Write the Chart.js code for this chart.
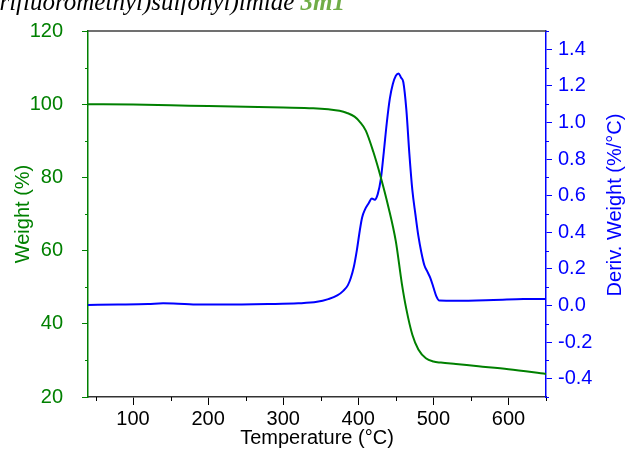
<!DOCTYPE html>
<html><head><meta charset="utf-8">
<script src="https://cdn.jsdelivr.net/npm/chart.js@4/dist/chart.umd.min.js"></script>
<style>
html,body{margin:0;padding:0;background:#fff;overflow:hidden;}
#wrap{position:relative;width:626px;height:450px;overflow:hidden;}
canvas{position:absolute;left:0;top:0;}
#title{position:absolute;right:281px;top:-11px;white-space:nowrap;font-family:"Liberation Serif",serif;font-style:italic;font-size:25px;line-height:25px;color:#000;}
#title b{color:#70AD47;}
</style></head><body>
<div id="wrap"><canvas id="c" width="626" height="450"></canvas><div id="title">bis((trifluoromethyl)sulfonyl)imide <b>3m1</b></div></div>
<script>
// ---- data ----
const weightTemp   = [40, 100, 150, 200, 250, 300, 340, 360, 375, 385, 395, 402, 410, 420, 430, 440, 450, 458, 464, 472, 480, 490, 500, 510, 530, 560, 600, 650];
const weightValues = [100.0, 99.9, 99.7, 99.5, 99.3, 99.1, 98.9, 98.6, 98.2, 97.6, 96.6, 95.2, 92.8, 87.0, 80.0, 72.0, 62.5, 51.0, 44.0, 37.0, 33.0, 30.6, 29.7, 29.4, 29.0, 28.4, 27.6, 26.3];

const derivTemp   = [40, 80, 120, 140, 160, 180, 220, 280, 320, 345, 360, 372, 380, 386, 390, 394, 398, 402, 405, 409, 414, 418, 422, 426, 430, 434, 438, 442, 446, 450, 453.5, 457, 460, 464, 468, 472, 476, 480, 484, 488, 492, 496, 500, 504, 508, 530, 580, 620, 650];
const derivValues = [0.003, 0.005, 0.008, 0.012, 0.01, 0.006, 0.005, 0.008, 0.012, 0.02, 0.035, 0.055, 0.08, 0.11, 0.15, 0.21, 0.30, 0.41, 0.48, 0.525, 0.56, 0.585, 0.578, 0.61, 0.69, 0.84, 1.0, 1.13, 1.21, 1.255, 1.268, 1.245, 1.22, 1.07, 0.83, 0.63, 0.50, 0.38, 0.29, 0.22, 0.185, 0.15, 0.10, 0.05, 0.027, 0.026, 0.03, 0.035, 0.036];

const xTicks       = [100, 200, 300, 400, 500, 600];
const xMinorTicks  = [50, 150, 250, 350, 450, 550, 650];
const yTicks       = [20, 40, 60, 80, 100, 120];
const yMinorTicks  = [30, 50, 70, 90, 110];
const y1Ticks      = [-0.4, -0.2, 0.0, 0.2, 0.4, 0.6, 0.8, 1.0, 1.2, 1.4];
const y1MinorTicks = [-0.5, -0.3, -0.1, 0.1, 0.3, 0.5, 0.7, 0.9, 1.1, 1.3, 1.5];

const GREEN = '#008000', BLUE = '#0000ff';
const FONT = {family: '"Liberation Sans", Arial, sans-serif', size: 20};

const decor = {
  id: 'decor',
  afterDraw(chart) {
    const {ctx, chartArea: a, scales} = chart;
    ctx.save();
    ctx.strokeStyle = '#404040'; ctx.lineWidth = 1.5;
    ctx.beginPath(); ctx.moveTo(a.left, a.top); ctx.lineTo(a.right, a.top); ctx.stroke();
    ctx.lineWidth = 1;
    ctx.strokeStyle = '#000';
    xMinorTicks.forEach(v => { const p = Math.round(scales.x.getPixelForValue(v)) + 0.5; ctx.beginPath(); ctx.moveTo(p, a.bottom); ctx.lineTo(p, a.bottom + 4); ctx.stroke(); });
    ctx.strokeStyle = GREEN;
    yMinorTicks.forEach(v => { const p = Math.round(scales.y.getPixelForValue(v)) + 0.5; ctx.beginPath(); ctx.moveTo(a.left, p); ctx.lineTo(a.left - 3, p); ctx.stroke(); });
    ctx.strokeStyle = BLUE;
    y1MinorTicks.forEach(v => { const p = Math.round(scales.y1.getPixelForValue(v)) + 0.5; ctx.beginPath(); ctx.moveTo(a.right, p); ctx.lineTo(a.right + 3, p); ctx.stroke(); });
    // right axis title (reads bottom to top)
    ctx.translate(615, 205);
    ctx.rotate(-Math.PI / 2);
    ctx.fillStyle = BLUE;
    ctx.font = '20px "Liberation Sans", Arial, sans-serif';
    ctx.textAlign = 'center'; ctx.textBaseline = 'middle';
    ctx.fillText('Deriv. Weight (%/°C)', 0, 0);
    ctx.restore();
  }
};

new Chart(document.getElementById('c'), {
  type: 'line',
  data: {
    datasets: [
      {label: 'Weight', data: weightTemp.map((t, i) => ({x: t, y: weightValues[i]})), yAxisID: 'y',
       borderColor: GREEN, borderWidth: 2, pointRadius: 0, cubicInterpolationMode: 'monotone', fill: false},
      {label: 'Deriv. Weight', data: derivTemp.map((t, i) => ({x: t, y: derivValues[i]})), yAxisID: 'y1',
       borderColor: BLUE, borderWidth: 2, pointRadius: 0, cubicInterpolationMode: 'monotone', fill: false}
    ]
  },
  options: {
    responsive: false, animation: false,
    layout: {padding: {top: 22, left: 0, right: 0, bottom: 0}},
    plugins: {legend: {display: false}, tooltip: {enabled: false}},
    scales: {
      x: {
        type: 'linear', position: 'bottom', min: 40, max: 650,
        afterBuildTicks: s => { s.ticks = xTicks.map(v => ({value: v})); },
        afterFit: s => { s.height = 53; },
        grid: {drawOnChartArea: false, drawTicks: true, tickLength: 8, color: '#000'},
        border: {color: '#333', width: 1.5},
        ticks: {color: '#000', font: FONT, padding: 2, maxRotation: 0, autoSkip: false},
        title: {display: true, text: 'Temperature (°C)', color: '#000', font: FONT, padding: {top: 0, bottom: 0}}
      },
      y: {
        position: 'left', min: 20, max: 120,
        afterBuildTicks: s => { s.ticks = yTicks.map(v => ({value: v})); },
        afterFit: s => { s.width = 88; },
        grid: {drawOnChartArea: false, drawTicks: true, tickLength: 6, color: GREEN},
        border: {color: GREEN, width: 1.5},
        ticks: {color: GREEN, font: FONT, padding: 19, autoSkip: false},
        title: {display: true, text: 'Weight (%)', color: GREEN, font: FONT, padding: {top: 11, bottom: 0}}
      },
      y1: {
        position: 'right', min: -0.5, max: 1.5,
        afterBuildTicks: s => { s.ticks = y1Ticks.map(v => ({value: v})); },
        afterFit: s => { s.width = 80; },
        grid: {drawOnChartArea: false, drawTicks: true, tickLength: 6, color: BLUE},
        border: {color: BLUE, width: 1.5},
        ticks: {color: BLUE, font: FONT, padding: 6, autoSkip: false, callback: v => Number(v).toFixed(1)}
      }
    }
  },
  plugins: [decor]
});
</script>
</body></html>
